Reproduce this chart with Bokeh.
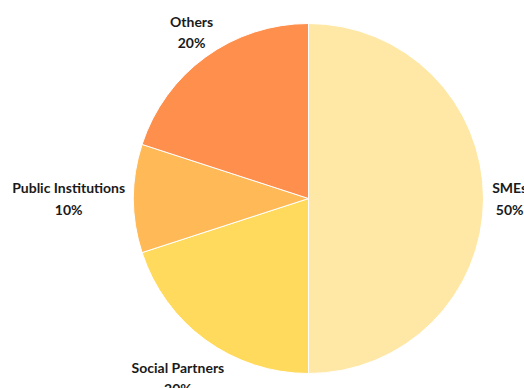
import math

from bokeh.core.properties import value
from bokeh.embed import file_html
from bokeh.models import ColumnDataSource, Range1d
from bokeh.plotting import figure
from bokeh.resources import INLINE

# Share of project partners by type
categories = ["SMEs", "Social Partners", "Public Institutions", "Others"]
shares = [50, 20, 10, 20]
colors = ["#FFE8A5", "#FFDA5C", "#FFB957", "#FF8F4C"]

W, H = 524, 388
R = 175           # pie radius in screen pixels
GAP = 5           # distance between rim and label box
FONT_PX = 14
LINE_H = 1.25
# extra shift (dx, dy in pixels, y up) for individual labels
LABEL_SHIFT = {"SMEs": (3, 0), "Social Partners": (3, -13)}

total = sum(shares)
starts, ends = [], []
acc = 0.0
for s in shares:
    # clockwise from 12 o'clock
    starts.append(math.pi / 2 - 2 * math.pi * acc / total)
    acc += s
    ends.append(math.pi / 2 - 2 * math.pi * acc / total)

wedges = ColumnDataSource(dict(start=starts, end=ends, color=colors, name=categories))

# Labels sit just outside the rim, pushed out by half of their own box
lx, ly, ltext = [], [], []
for name, s, a0, a1 in zip(categories, shares, starts, ends):
    mid = (a0 + a1) / 2
    dx, dy = math.cos(mid), math.sin(mid)
    half_w = max(len(name) * 0.45, 2.6) * FONT_PX / 2
    half_h = FONT_PX * LINE_H * 1.5
    sx, sy = LABEL_SHIFT.get(name, (0, 0))
    lx.append((R + GAP) * dx + dx * half_w + sx)
    ly.append((R + GAP) * dy + dy * half_h + sy)
    ltext.append(f"{name}\n{s}%")

labels = ColumnDataSource(dict(x=lx, y=ly, text=ltext))

p = figure(width=W, height=H, output_backend="svg", toolbar_location=None,
           x_range=Range1d(-308, W - 308), y_range=Range1d(-(H - 198), 198),
           min_border=0, outline_line_color=None)
p.axis.visible = False
p.grid.visible = False
p.background_fill_color = "white"
p.border_fill_color = "white"

p.wedge(x=0, y=0, radius=R, radius_units="screen",
        start_angle="start", end_angle="end", direction="clock",
        fill_color="color", line_color="white", line_width=1, source=wedges)

p.text(x="x", y="y", text="text", source=labels,
       text_font=value("Lato"), text_font_style="bold",
       text_font_size=f"{FONT_PX}px", text_color="#1a1a1a",
       text_align="center", text_baseline="middle", text_line_height=LINE_H)

open("out.html", "w").write(file_html(p, INLINE))
